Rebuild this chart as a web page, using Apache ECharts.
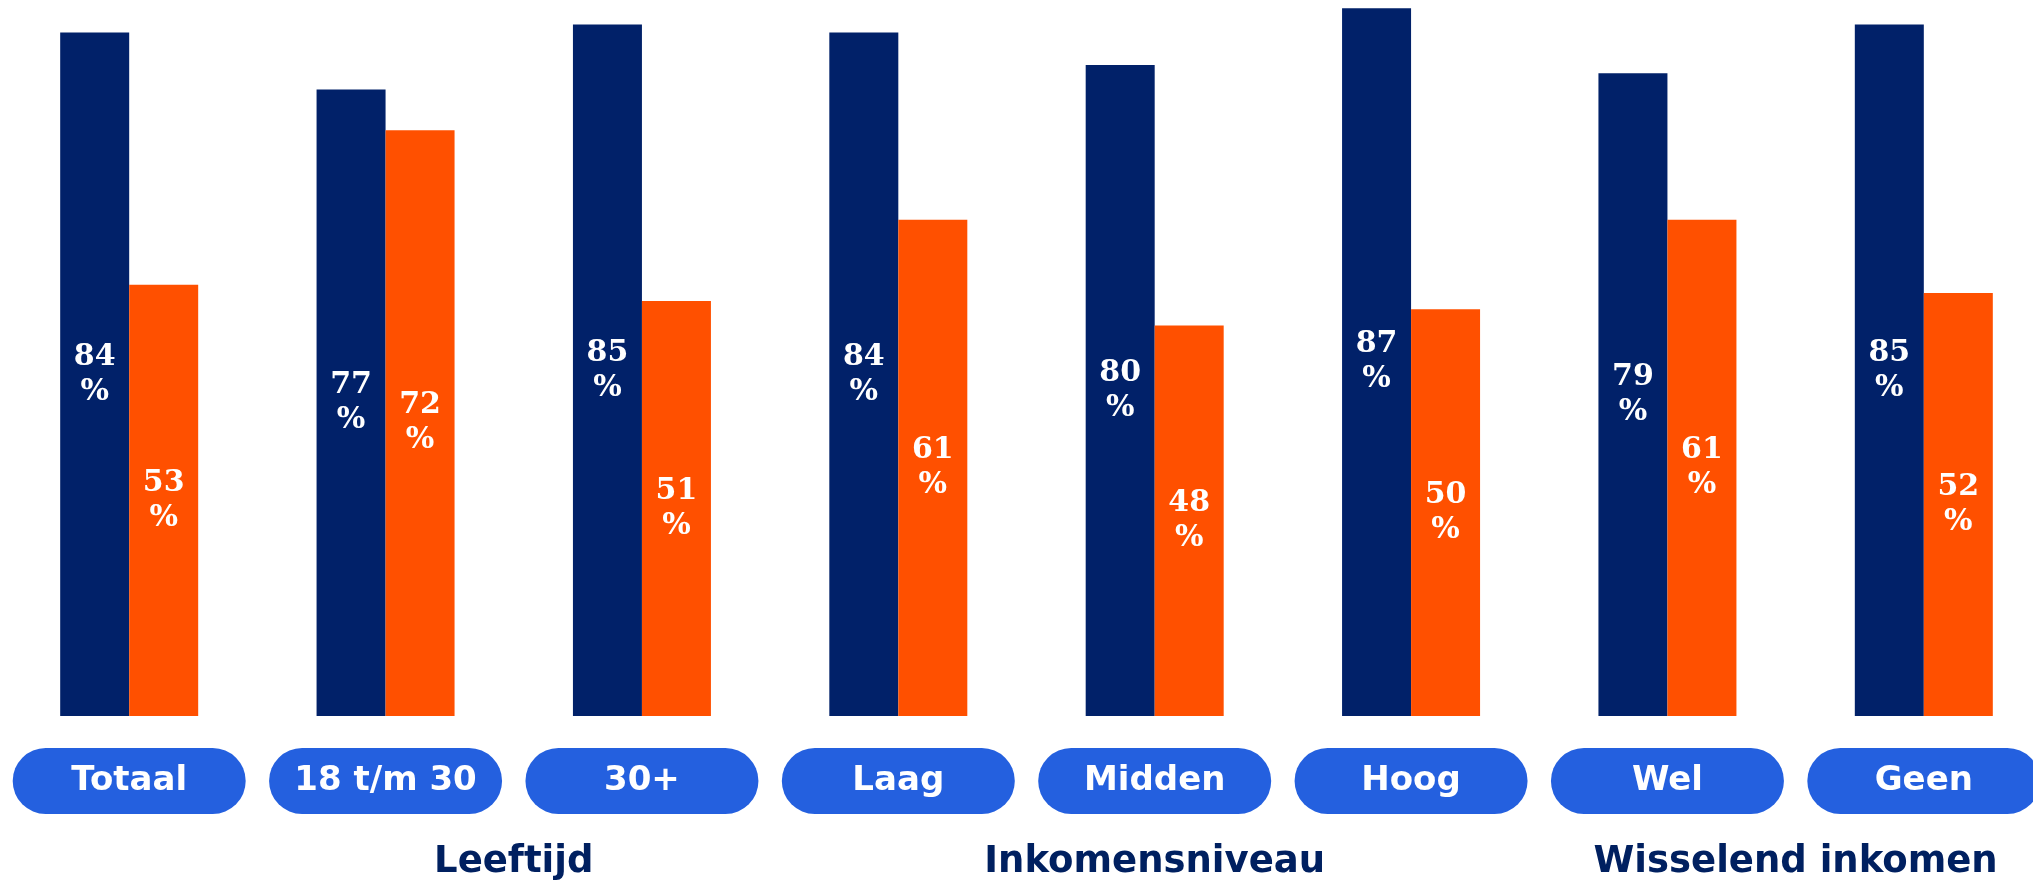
<!DOCTYPE html>
<html>
<head>
<meta charset="utf-8">
<script src="https://cdn.jsdelivr.net/npm/echarts@6/dist/echarts.min.js"></script>
<style>
  html, body { margin: 0; padding: 0; background: #ffffff; overflow: hidden; }
  #chart { width: 2033px; height: 880px; }
</style>
</head>
<body>
<div id="chart"></div>
<script>
const categories = ['Totaal', '18 t/m 30', '30+', 'Laag', 'Midden', 'Hoog', 'Wel', 'Geen'];
const seriesA = [84, 77, 85, 84, 80, 87, 79, 85];
const seriesB = [53, 72, 51, 61, 48, 50, 61, 52];
const groupNames = ['Leeftijd', 'Inkomensniveau', 'Wisselend inkomen'];
const groupFrom = [1, 4, 6];
const groupTo = [2, 4, 7];

const NAVY = '#012169';
const ORANGE = '#FF5000';
const PILL = '#2460DF';

const chart = echarts.init(document.getElementById('chart'), null, { renderer: 'canvas' });

const labelStyle = {
  show: true,
  position: 'inside',
  color: '#ffffff',
  fontFamily: 'DejaVu Serif',
  fontWeight: 'bold',
  fontSize: 30,
  lineHeight: 35,
  formatter: function (p) { return p.value + '\n%'; }
};

chart.setOption({
  animation: false,
  backgroundColor: '#ffffff',
  grid: { left: 1, width: 2051, top: 0, bottom: 164, containLabel: false, outerBoundsMode: 'none' },
  xAxis: {
    type: 'category',
    data: categories,
    axisLine: { show: false },
    axisTick: { show: false },
    axisLabel: {
      interval: 0,
      margin: 32,
      color: '#ffffff',
      fontFamily: 'DejaVu Sans',
      fontWeight: 'bold',
      fontSize: 34,
      backgroundColor: PILL,
      borderRadius: 33,
      width: 233,
      height: 66,
      lineHeight: 66,
      align: 'center'
    }
  },
  yAxis: {
    type: 'value',
    min: 0,
    max: 88,
    show: false,
    splitLine: { show: false }
  },
  series: [
    {
      name: 'A',
      type: 'bar',
      data: seriesA,
      barWidth: 69,
      barGap: '0%',
      itemStyle: { color: NAVY },
      label: labelStyle
    },
    {
      name: 'B',
      type: 'bar',
      data: seriesB,
      barWidth: 69,
      barGap: '0%',
      itemStyle: { color: ORANGE },
      label: labelStyle
    }
  ]
});

// Group labels, centred under their categories using the axis scale
const graphics = groupNames.map(function (name, i) {
  const x1 = chart.convertToPixel({ xAxisIndex: 0 }, categories[groupFrom[i]]);
  const x2 = chart.convertToPixel({ xAxisIndex: 0 }, categories[groupTo[i]]);
  return {
    type: 'text',
    x: (x1 + x2) / 2,
    y: 862,
    style: {
      text: name,
      fill: '#002060',
      font: 'bold 37px "DejaVu Sans"',
      textAlign: 'center',
      textVerticalAlign: 'middle'
    }
  };
});
chart.setOption({ graphic: graphics });
</script>
</body>
</html>
